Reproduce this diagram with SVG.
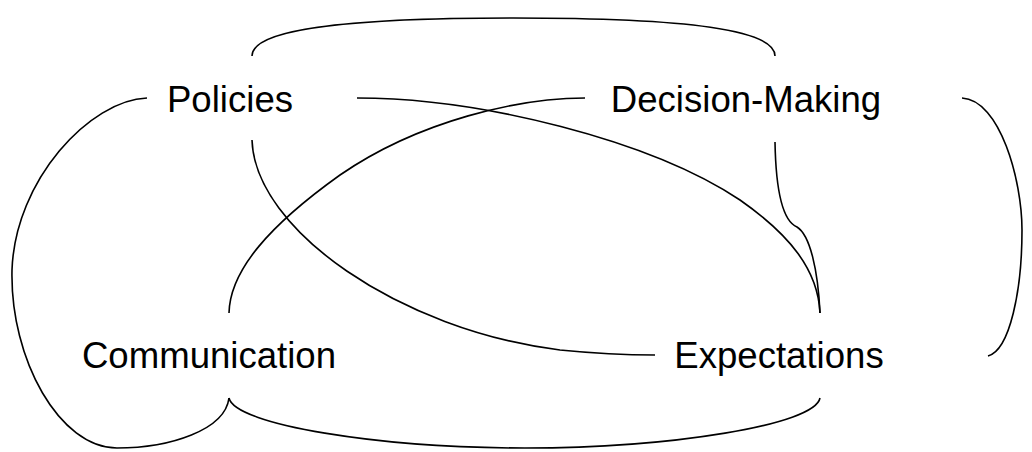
<svg xmlns="http://www.w3.org/2000/svg" width="1032" height="452" viewBox="0 0 1032 452">
<style>
.e{fill:none;stroke:#000;stroke-width:1.6}
.t{font-family:"Liberation Sans",Arial,sans-serif;font-size:36.6px;fill:#000;text-anchor:middle}
</style>
<rect width="1032" height="452" fill="#fff"/>
<g id="connectors">
<path class="e" d="M252,56 C252,30 340,18 513,18 C690,18 775,30 775,56"/>
<path class="e" d="M147,98 C90,100 15,180 12,270 C10,360 60,448 117,448 C170,448 225,430 229,398"/>
<path class="e" d="M357,98 C480,98 650,140 740,200 C790,235 818,270 820,313"/>
<path class="e" d="M252,140 C255,230 400,330 560,350 C600,354 630,355 655,355"/>
<path class="e" d="M585,98 C520,98 420,120 340,175 C270,225 230,270 229,313"/>
<path class="e" d="M775,142 C776,200 785,222 797,227 C810,235 818,270 820,313"/>
<path class="e" d="M962,98 C1000,100 1022,180 1022,230 C1022,290 1010,350 988,356"/>
<path class="e" d="M229,398 C235,425 380,448 525,448 C670,448 815,425 820,398"/>
</g>
<g id="policies"><text class="t" x="230" y="112">Policies</text></g>
<g id="decision-making"><text class="t" x="746" y="112">Decision-Making</text></g>
<g id="communication"><text class="t" x="209" y="368">Communication</text></g>
<g id="expectations"><text class="t" x="779" y="368">Expectations</text></g>
</svg>
